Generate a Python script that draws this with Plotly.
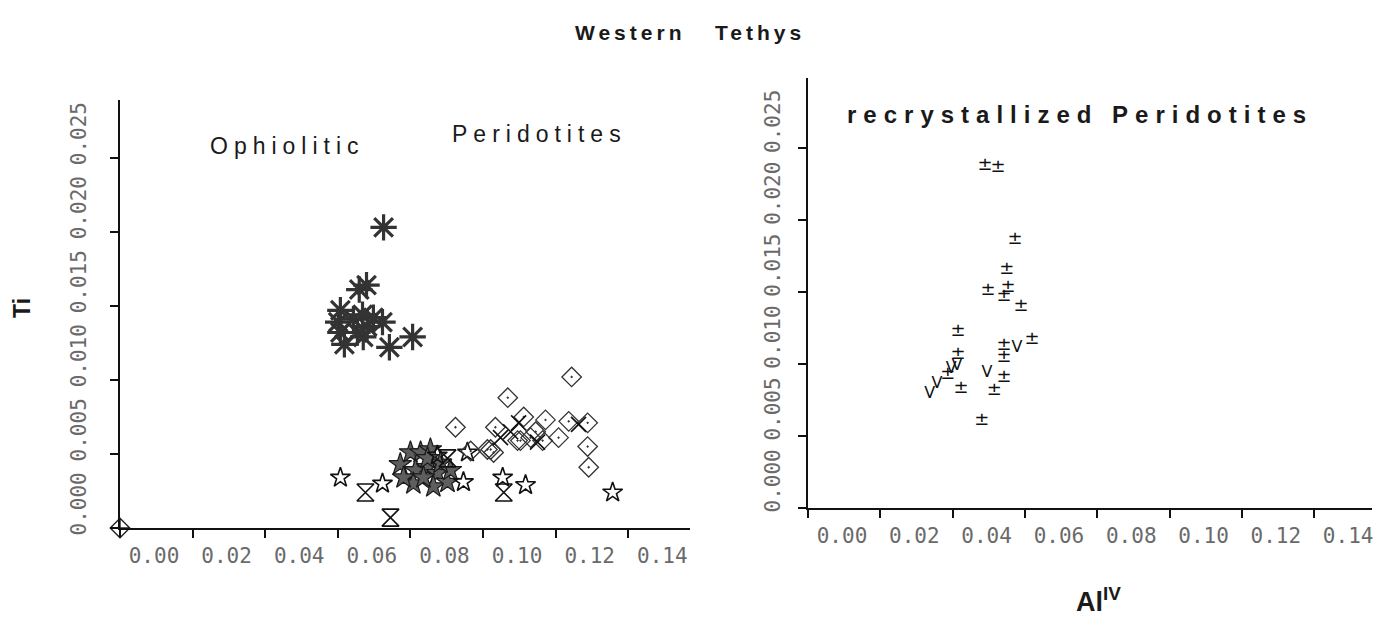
import plotly.graph_objects as go

# ---------------- data: Al(IV) vs Ti ----------------
# Ophiolitic peridotites
ast_x = [0.0726, 0.0659, 0.0679, 0.0607, 0.0601, 0.0607, 0.0618, 0.0668, 0.0681,
         0.0723, 0.0670, 0.0742, 0.0806, 0.0643, 0.0698, 0.0654]
ast_y = [0.0203, 0.0161, 0.0164, 0.0147, 0.0139, 0.0132, 0.0124, 0.0144, 0.0136,
         0.0139, 0.0129, 0.0122, 0.0129, 0.0141, 0.0142, 0.0132]

fstar_x = [0.0772, 0.0800, 0.0828, 0.0855, 0.0814, 0.0847, 0.0874, 0.0808, 0.0863,
           0.0902, 0.0910, 0.0781, 0.0836, 0.0883, 0.0847]
fstar_y = [0.0043, 0.0051, 0.0051, 0.0053, 0.0039, 0.0041, 0.0037, 0.0030, 0.0028,
           0.0031, 0.0039, 0.0034, 0.0034, 0.0044, 0.0047]

ostar_x = [0.0607, 0.0723, 0.0874, 0.0946, 0.0957, 0.1054, 0.1117, 0.1357]
ostar_y = [0.0034, 0.0030, 0.0049, 0.0031, 0.0051, 0.0034, 0.0029, 0.0024]

hour_x = [0.0676, 0.0745, 0.1057, 0.0902]
hour_y = [0.0024, 0.0007, 0.0024, 0.0047]

diam_x = [0.1244, 0.1068, 0.1172, 0.1236, 0.1288, 0.1145, 0.1208, 0.1103, 0.1021,
          0.1288, 0.1291, 0.1164, 0.1131, 0.0924, 0.1029, 0.1095, 0.1012, 0.0966,
          0.1034, 0.1112]
diam_y = [0.0102, 0.0088, 0.0073, 0.0072, 0.0071, 0.0065, 0.0061, 0.0059, 0.0053,
          0.0055, 0.0041, 0.0059, 0.0061, 0.0068, 0.0051, 0.0059, 0.0053, 0.0052,
          0.0068, 0.0075]

cross_x = [0.1098, 0.1263, 0.1150, 0.1048, 0.1076]
cross_y = [0.0071, 0.0070, 0.0058, 0.0061, 0.0065]

orig_x = [0.0]
orig_y = [0.0]

# Recrystallized peridotites
pm_x = [0.0490, 0.0526, 0.0573, 0.0550, 0.0498, 0.0553, 0.0542, 0.0589, 0.0415,
        0.0620, 0.0542, 0.0415, 0.0542, 0.0387, 0.0542, 0.0423, 0.0515, 0.0481]
pm_y = [0.0238, 0.0237, 0.0187, 0.0166, 0.0151, 0.0153, 0.0147, 0.0140, 0.0123,
        0.0117, 0.0113, 0.0107, 0.0105, 0.0093, 0.0091, 0.0083, 0.0082, 0.0061]

v_x = [0.0578, 0.0495, 0.0412, 0.0396, 0.0357, 0.0337]
v_y = [0.0111, 0.0094, 0.0099, 0.0097, 0.0086, 0.0079]

x_ticks = [0.00, 0.02, 0.04, 0.06, 0.08, 0.10, 0.12, 0.14]
x_ticktext = ["0.00", "0.02", "0.04", "0.06", "0.08", "0.10", "0.12", "0.14"]
y_ticks = [0.000, 0.005, 0.010, 0.015, 0.020, 0.025]
y_ticktext = ["0.000", "0.005", "0.010", "0.015", "0.020", "0.025"]

W, H = 1378, 627

fig = go.Figure()

def pts(x, y, symbol, size, color, lw, lcolor=None, xa="x", ya="y"):
    fig.add_trace(go.Scatter(
        x=x, y=y, mode="markers", xaxis=xa, yaxis=ya, cliponaxis=False,
        showlegend=False, hoverinfo="skip",
        marker=dict(symbol=symbol, size=size, color=color,
                    line=dict(width=lw, color=lcolor or color))))

pts(ast_x, ast_y, "asterisk-open", 22, "#333333", 3.2)
pts(fstar_x, fstar_y, "star", 17, "#5e5e5e", 1.2, "#1a1a1a")
pts(ostar_x, ostar_y, "star-open", 15, "#111111", 1.6)
pts(hour_x, hour_y, "hourglass-open", 17, "#111111", 1.6)
pts(diam_x, diam_y, "diamond-open-dot", 15, "#333333", 1.3)
pts(cross_x, cross_y, "x-thin-open", 15, "#111111", 1.6)
pts(orig_x, orig_y, "diamond-cross-open", 15, "#222222", 1.4)

def txt(x, y, t, size, xa="x2", ya="y2"):
    fig.add_trace(go.Scatter(
        x=x, y=y, mode="text", text=[t] * len(x), xaxis=xa, yaxis=ya,
        cliponaxis=False, showlegend=False, hoverinfo="skip",
        textfont=dict(family="DejaVu Sans", size=size, color="#111111")))

txt(pm_x, pm_y, "±", 18)
txt(v_x, v_y, "V", 16)

tickfont = dict(family="DejaVu Sans Mono", size=21, color="#6a6a6a")
axis_common = dict(showgrid=False, zeroline=False, showline=True, linecolor="#111111",
                   linewidth=2, ticks="outside", tickcolor="#111111", tickwidth=2,
                   ticklen=8, tickfont=tickfont, automargin=False)

fig.update_layout(
    width=W, height=H, autosize=False, margin=dict(l=0, r=0, t=0, b=0, pad=0),
    paper_bgcolor="white", plot_bgcolor="white",
    xaxis=dict(domain=[120 / W, 690 / W], range=[0, 0.157], anchor="y",
               tickvals=x_ticks, ticktext=x_ticktext, ticklabelshift=34,
               ticklabelstandoff=0, **axis_common),
    yaxis=dict(domain=[1 - 528 / H, 1 - 100 / H], range=[0, 0.0289], anchor="x",
               tickvals=y_ticks, ticktext=y_ticktext, tickangle=-90,
               ticklabelshift=-21, ticklabelstandoff=16, **axis_common),
    xaxis2=dict(domain=[808 / W, 1372 / W], range=[0, 0.156], anchor="y2",
                tickvals=x_ticks, ticktext=x_ticktext, ticklabelshift=34,
                ticklabelstandoff=0, **axis_common),
    yaxis2=dict(domain=[1 - 508 / H, 1 - 78 / H], range=[0, 0.0299], anchor="x2",
                tickvals=y_ticks, ticktext=y_ticktext, tickangle=-90,
                ticklabelshift=-24, ticklabelstandoff=10, **axis_common),
)

def label(px, py, text, size, bold=False, angle=0, spacing=0):
    t = text
    if spacing:
        t = '<span style="letter-spacing:%dpx">%s</span>' % (spacing, text)
    if bold:
        t = "<b>" + t + "</b>"
    fig.add_annotation(x=px / W, y=1 - py / H, xref="paper", yref="paper",
                       text=t, showarrow=False, textangle=angle,
                       xanchor="center", yanchor="middle",
                       font=dict(family="Liberation Sans", size=size, color="#1a1a1a"))

label(690, 32, "Western&nbsp;&nbsp;&nbsp;Tethys", 21, bold=True, spacing=4)
label(287, 146, "Ophiolitic", 23, spacing=6)
label(539, 134, "Peridotites", 23, spacing=6)
label(1080, 114, "recrystallized Peridotites", 24, bold=True, spacing=7)
label(22, 308, "Ti", 23, bold=True, angle=-90)
label(1098, 600, "Al<sup>IV</sup>", 27, bold=True)

fig.write_html("out.html")
